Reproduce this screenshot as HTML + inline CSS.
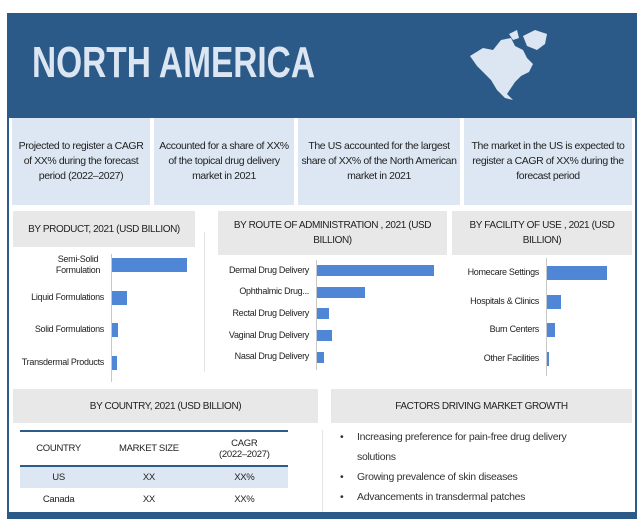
<!DOCTYPE html>
<html><head><meta charset="utf-8">
<style>
*{margin:0;padding:0;box-sizing:border-box}
body{width:644px;height:531px;background:#fff;position:relative;font-family:"Liberation Sans",sans-serif;color:#222;overflow:hidden;letter-spacing:-0.3px}
.a{position:absolute}
.frame{left:7px;top:13px;width:630px;height:506px;border:2px solid #2e5c8a;background:#fff}
.hdr{left:7px;top:13px;width:630px;height:105px;background:#2b5a88}
.title{left:32px;top:38px;font-size:44px;font-weight:bold;color:#dbe6f2;letter-spacing:0;transform:scaleX(0.76);transform-origin:left;white-space:nowrap}
.info{top:118px;height:87px;background:#dce7f3;font-size:10.5px;text-align:center;display:flex;align-items:center;justify-content:center;line-height:15px;padding:0 3px;letter-spacing:-0.4px}
.sh{background:#e8e8e8;font-size:10px;text-align:center;display:flex;align-items:center;justify-content:center;line-height:15px;color:#222;letter-spacing:-0.4px}
.lbl{font-size:9px;text-align:right;line-height:11px;letter-spacing:-0.3px}
.bar{background:#4f86d6}
.ax{background:#c8c8c8;width:1px}
td,th{font-size:9.5px;text-align:center;font-weight:normal;height:22px}
li{font-size:10.5px;color:#333;list-style:none;line-height:20px}
</style></head><body>
<div class="a frame"></div>
<div class="a hdr"></div>
<div class="a title">NORTH AMERICA</div>
<svg class="a" style="left:465px;top:28px" width="100" height="80">
<path d="M5,28 L18,20 L28,22 L36,12 L46,10 L50,18 L58,22 L62,30 L68,36 L64,44 L56,48 L50,54 L46,60 L42,66 L48,72 L40,70 L32,62 L26,52 L20,46 L12,38 Z" fill="#dbe6f2"/>
<path d="M58,8 L70,2 L82,6 L80,16 L72,22 L62,18 Z" fill="#dbe6f2"/>
<path d="M44,6 L52,2 L54,10 L48,12 Z" fill="#dbe6f2"/>
</svg>
<div class="a info" style="left:12px;width:138px">Projected to register a CAGR of XX% during the forecast period (2022–2027)</div>
<div class="a info" style="left:154px;width:140px">Accounted for a share of XX% of the topical drug delivery market in 2021</div>
<div class="a info" style="left:298px;width:162px">The US accounted for the largest share of XX% of the North American market in 2021</div>
<div class="a info" style="left:464px;width:168px">The market in the US is expected to register a CAGR of XX% during the forecast period</div>

<div class="a sh" style="left:13px;top:211px;width:182px;height:36px">BY PRODUCT, 2021 (USD BILLION)</div>
<div class="a sh" style="left:218px;top:211px;width:229px;height:44px;padding:0 10px">BY ROUTE OF ADMINISTRATION , 2021 (USD BILLION)</div>
<div class="a sh" style="left:452px;top:211px;width:180px;height:44px;padding:0 8px">BY FACILITY OF USE , 2021 (USD BILLION)</div>
<div class="a" style="left:204px;top:232px;width:1px;height:140px;background:#e4e4e4"></div>

<div id="charts"></div>

<div class="a sh" style="left:13px;top:389px;width:305px;height:34px">BY COUNTRY, 2021 (USD BILLION)</div>
<div class="a sh" style="left:331px;top:389px;width:301px;height:34px">FACTORS DRIVING MARKET GROWTH</div>
<div class="a" style="left:322px;top:430px;width:1px;height:85px;background:#e4e4e4"></div>
<table class="a" style="left:20px;top:430px;width:268px;border-collapse:collapse;border-top:2px solid #2e5c8a">
<tr style="height:35px;border-bottom:2px solid #2e5c8a"><th>COUNTRY</th><th>MARKET SIZE</th><th>CAGR<br>(2022–2027)</th></tr>
<tr style="background:#dce7f3"><td>US</td><td>XX</td><td>XX%</td></tr>
<tr><td>Canada</td><td>XX</td><td>XX%</td></tr>
</table>
<ul class="a" style="left:340px;top:427px;width:245px">
<li style="position:relative"><span style="position:absolute;left:0">•</span><span style="display:block;padding-left:17px">Increasing preference for pain-free drug delivery solutions</span></li>
<li style="position:relative"><span style="position:absolute;left:0">•</span><span style="display:block;padding-left:17px">Growing prevalence of skin diseases</span></li>
<li style="position:relative"><span style="position:absolute;left:0">•</span><span style="display:block;padding-left:17px">Advancements in transdermal patches</span></li>
</ul>
<div class="a" style="left:7px;top:512px;width:630px;height:7px;background:#2b5a88"></div>

<script>
const productCats=["Semi-Solid Formulation","Liquid Formulations","Solid Formulations","Transdermal Products"];
const productVals=[75,15,6,5];
const routeCats=["Dermal Drug Delivery","Ophthalmic Drug...","Rectal Drug Delivery","Vaginal Drug Delivery","Nasal Drug Delivery"];
const routeVals=[117,48,12,15,7];
const facilityCats=["Homecare Settings","Hospitals & Clinics","Burn Centers","Other Facilities"];
const facilityVals=[60,14,8,2];

const host=document.getElementById('charts');
function chart(name,cats,vals,axisX,top,step,barH,axisTop,axisH,lblLeft,lblW){
  const ax=document.createElement('div');
  ax.className='a ax';ax.style.left=axisX+'px';ax.style.top=axisTop+'px';ax.style.height=axisH+'px';
  
  
  host.appendChild(ax);
  const scale=v=>v*1;
  cats.forEach((c,i)=>{
    const y=top+i*step;
    const b=document.createElement('div');
    b.className='a bar';b.style.left=(axisX+1)+'px';b.style.top=y+'px';b.style.height=barH+'px';b.style.width=scale(vals[i])+'px';
    
    
    host.appendChild(b);
    const l=document.createElement('div');
    l.className='a lbl';l.style.left=lblLeft+'px';l.style.width=lblW+'px';
    const two=(c==='Semi-Solid Formulation');
    l.style.top=(y+barH/2-(two?11:6))+'px';
    if(two){l.innerHTML='Semi-Solid<br>Formulation';l.style.textAlign='center';l.style.left=(lblLeft+40)+'px';l.style.width='60px';}
    else l.textContent=c;
    
    
    host.appendChild(l);
  });
}
chart('product',productCats,productVals,111,258,32.5,14,254,128,8,96);
chart('route',routeCats,routeVals,316,265,21.7,11,260,110,205,104);
chart('facility',facilityCats,facilityVals,546,266,28.5,14,258,118,440,99);
</script>
</body></html>
